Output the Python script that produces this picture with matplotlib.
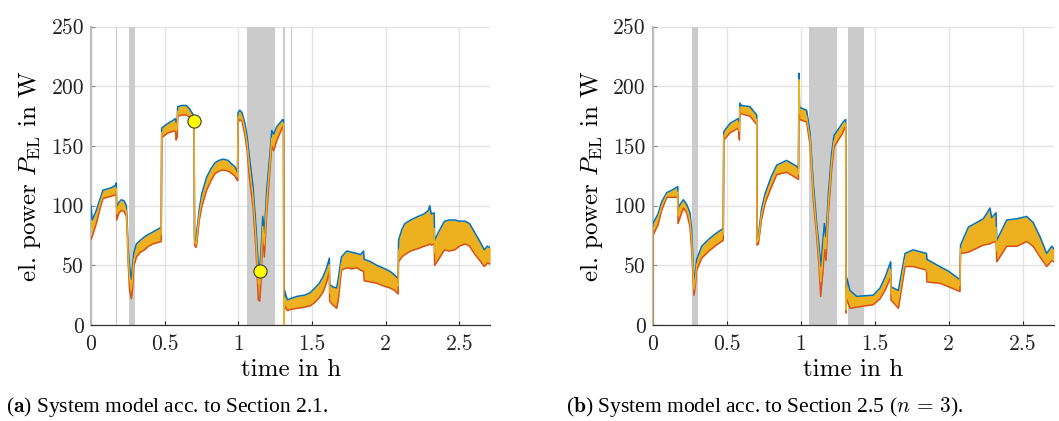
import matplotlib
matplotlib.use("Agg")
import matplotlib.pyplot as plt
import numpy as np

plt.rcParams['font.family'] = ['cmr10']
plt.rcParams['mathtext.fontset'] = 'cm'
plt.rcParams['axes.unicode_minus'] = False

# ---------------- data: (a) system model acc. to Section 2.1 ----------------
t_a = [0.000, 0.008, 0.036, 0.060, 0.081, 0.110, 0.138, 0.165, 0.172, 0.174, 0.190, 0.206,
       0.225, 0.240, 0.247, 0.251, 0.262, 0.274, 0.282, 0.290, 0.308, 0.335, 0.364, 0.390,
       0.421, 0.450, 0.477, 0.480, 0.500, 0.523, 0.550, 0.573, 0.578, 0.586, 0.588, 0.620,
       0.647, 0.670, 0.690, 0.700, 0.703, 0.712, 0.717, 0.735, 0.752, 0.785, 0.815, 0.842,
       0.870, 0.898, 0.930, 0.955, 0.975, 0.989, 0.995, 0.998, 1.010, 1.025, 1.045, 1.060,
       1.075, 1.100, 1.120, 1.136, 1.145, 1.152, 1.166, 1.177, 1.193, 1.215, 1.227, 1.240,
       1.260, 1.280, 1.300, 1.307, 1.309, 1.315, 1.325, 1.335, 1.351, 1.400, 1.450, 1.487,
       1.520, 1.550, 1.577, 1.600, 1.618, 1.620, 1.640, 1.668, 1.680, 1.700, 1.736, 1.770,
       1.804, 1.830, 1.850, 1.855, 1.900, 1.940, 1.980, 2.030, 2.060, 2.085, 2.088, 2.110,
       2.130, 2.170, 2.220, 2.260, 2.290, 2.300, 2.310, 2.330, 2.333, 2.360, 2.400, 2.430,
       2.470, 2.500, 2.540, 2.570, 2.607, 2.640, 2.670, 2.690, 2.710]
blue_a = [100, 88, 96, 105, 113, 114, 115, 117, 119, 99, 103, 105,
          104, 100, 82, 66, 49, 38, 50, 60, 68, 71, 74, 76,
          78, 80, 82, 165, 167, 169, 171, 173, 170, 172, 183, 184,
          184, 181, 177, 175, 72, 70, 77, 97, 110, 124, 131, 136,
          138, 139, 138, 135, 133, 130, 128, 178, 180, 178, 169, 158,
          141, 116, 82, 49, 48, 58, 91, 77, 113, 144, 163, 160,
          166, 169, 172, 172, 0, 29, 24, 21, 22, 24, 25, 27,
          31, 35, 41, 48, 56, 34, 32, 31, 40, 57, 62, 61,
          60, 59, 62, 55, 53, 50, 48, 45, 42, 39, 71, 80,
          85, 88, 91, 93, 96, 100, 93, 94, 71, 78, 87, 88,
          88, 87, 87, 85, 77, 70, 63, 66, 65]
red_a = [72, 74, 85, 97, 106, 107, 108, 109, 110, 88, 94, 96,
         95, 91, 74, 55, 29, 22, 30, 49, 57, 61, 63, 66,
         68, 69, 70, 157, 159, 161, 162, 163, 155, 158, 175, 176,
         176, 174, 171, 170, 67, 65, 67, 88, 99, 113, 121, 127,
         129, 130, 129, 127, 125, 122, 121, 170, 172, 171, 159, 146,
         124, 99, 63, 21, 20, 32, 74, 57, 94, 130, 150, 146,
         154, 160, 166, 166, 0, 16, 14, 12, 13, 14, 15, 16,
         19, 23, 28, 36, 45, 20, 17, 14, 22, 46, 48, 47,
         48, 46, 45, 37, 36, 35, 33, 31, 29, 26, 53, 57,
         59, 62, 64, 66, 67, 68, 67, 68, 50, 55, 63, 62,
         63, 66, 68, 66, 59, 54, 49, 52, 51]
marker_t_a = [0.701, 1.149]
marker_p_a = [171, 45]
shade_a = [(0.167, 0.175), (0.258, 0.297), (1.059, 1.247), (1.306, 1.314), (1.357, 1.365)]

# ---------------- data: (b) system model acc. to Section 2.5 (n = 3) ----------------
t_b = [0.000, 0.001, 0.036, 0.060, 0.095, 0.130, 0.169, 0.171, 0.190, 0.207, 0.230, 0.252,
       0.263, 0.279, 0.288, 0.297, 0.331, 0.380, 0.430, 0.477, 0.480, 0.522, 0.578, 0.586,
       0.589, 0.600, 0.657, 0.703, 0.705, 0.714, 0.735, 0.759, 0.800, 0.838, 0.905, 0.973,
       0.985, 0.988, 0.992, 1.000, 1.040, 1.063, 1.085, 1.108, 1.124, 1.135, 1.149, 1.160,
       1.171, 1.187, 1.209, 1.225, 1.254, 1.280, 1.300, 1.304, 1.306, 1.310, 1.333, 1.378,
       1.490, 1.536, 1.570, 1.608, 1.610, 1.660, 1.705, 1.760, 1.850, 1.853, 1.940, 2.000,
       2.076, 2.080, 2.133, 2.234, 2.279, 2.290, 2.320, 2.325, 2.392, 2.460, 2.527, 2.570,
       2.617, 2.662, 2.696, 2.710]
blue_b = [0, 85, 93, 103, 111, 113, 116, 98, 102, 105, 101, 94,
          80, 35, 44, 55, 66, 72, 77, 81, 162, 169, 173, 170,
          186, 184, 183, 176, 72, 75, 97, 110, 124, 134, 138, 133,
          131, 211, 183, 182, 180, 161, 119, 85, 66, 49, 69, 85,
          74, 110, 144, 159, 164, 169, 172, 172, 15, 40, 29, 24,
          25, 31, 40, 53, 32, 29, 60, 63, 60, 55, 49, 45,
          38, 67, 82, 89, 98, 90, 94, 71, 88, 89, 91, 86,
          74, 60, 66, 64]
red_b = [0, 75, 84, 96, 107, 107, 107, 85, 92, 98, 94, 82,
         63, 25, 33, 46, 56, 62, 67, 71, 155, 161, 165, 155,
         178, 177, 175, 168, 67, 68, 88, 102, 115, 126, 128, 123,
         122, 200, 172, 172, 170, 151, 105, 74, 49, 24, 43, 63,
         54, 94, 130, 149, 155, 160, 166, 166, 10, 22, 14, 15,
         17, 22, 29, 40, 21, 14, 49, 49, 46, 36, 35, 32,
         28, 60, 61, 67, 68, 69, 70, 53, 66, 66, 70, 66,
         57, 49, 54, 53]
shade_b = [(0.268, 0.304), (1.058, 1.243), (1.303, 1.309), (1.322, 1.428)]

x_ticks = [0, 0.5, 1, 1.5, 2, 2.5]
y_ticks = [0, 50, 100, 150, 200, 250]

BLUE, RED, YEL = '#0072BD', '#D95319', '#EDB120'
W, H = 1059, 421
fig = plt.figure(figsize=(W / 100, H / 100), dpi=100)


def make_axes(x0, width_px, t, blue, red, shades, mt=None, mp=None):
    ax = fig.add_axes([x0 / W, (H - 325) / H, width_px / W, 298.3 / H])
    for (a, b) in shades:
        ax.axvspan(a, b, color='#cbcbcb', lw=0, zorder=1)
    ax.fill_between(t, red, blue, color=YEL, lw=0, zorder=2)
    ax.plot(t, blue, color=BLUE, lw=1.1, zorder=3)
    ax.plot(t, red, color=RED, lw=1.1, zorder=3)
    mid = [(u + l) / 2 for u, l in zip(blue, red)]
    ax.plot(t, mid, color=YEL, lw=1.0, zorder=4)
    if mt is not None:
        ax.plot(mt, mp, 'o', ms=9.5, mfc='#FFFF00', mec='#3a3a3a', mew=0.8, zorder=6)
    ax.set_xlim(0, 2.71)
    ax.set_ylim(0, 250)
    ax.set_xticks(x_ticks)
    ax.set_xticklabels(['0', '0.5', '1', '1.5', '2', '2.5'])
    ax.set_yticks(y_ticks)
    ax.grid(True, color='#e3e3e3', lw=1.0, zorder=0)
    ax.set_axisbelow(True)
    for s in ['top', 'right']:
        ax.spines[s].set_visible(False)
    ax.spines['left'].set_color('#bdbdbd')
    ax.spines['left'].set_linewidth(1.6)
    ax.spines['bottom'].set_color('#333333')
    ax.spines['bottom'].set_linewidth(0.9)
    ax.tick_params(direction='in', length=3, labelsize=15.5, colors='#222222')
    ax.tick_params(axis='x', pad=7)
    ax.tick_params(axis='y', color='#888888', pad=5)
    ax.set_xlabel('time in h', fontsize=18, labelpad=3)
    ax.set_ylabel(r'el. power $P_{\mathrm{EL}}$ in W', fontsize=18, labelpad=6)
    return ax


make_axes(91, 2.71 * 147.3, t_a, blue_a, red_a, shade_a, marker_t_a, marker_p_a)
make_axes(652.7, 2.71 * 148, t_b, blue_b, red_b, shade_b)

cap = dict(family=['Liberation Serif', 'DejaVu Serif'], fontsize=15.5, va='center')
fig.text(6 / W, 1 - 407 / H, r'($\mathbf{a}$) System model acc. to Section 2.1.', **cap)
fig.text(566 / W, 1 - 407 / H, r'($\mathbf{b}$) System model acc. to Section 2.5 ($n\,=\,3$).', **cap)

fig.savefig('out.png', dpi=100)
